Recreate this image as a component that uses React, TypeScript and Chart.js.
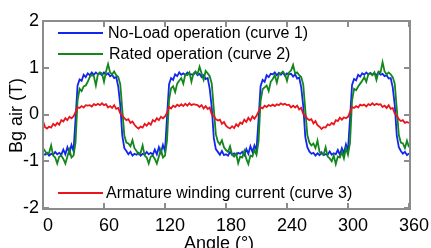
import React, { useEffect, useRef } from "react";
import { Chart, registerables } from "chart.js";

Chart.register(...registerables);

const angles = [
  0, 2, 4, 6, 8, 10, 12, 14, 16, 18, 20, 22, 24, 26, 28, 30, 32, 34, 36, 38, 40, 42, 44, 46, 48, 50, 52, 54, 56, 58,
  60, 62, 64, 66, 68, 70, 72, 74, 76, 78, 80, 82, 84, 86, 88, 90, 92, 94, 96, 98, 100, 102, 104, 106, 108, 110, 112,
  114, 116, 118, 120, 122, 124, 126, 128, 130, 132, 134, 136, 138, 140, 142, 144, 146, 148, 150, 152, 154, 156, 158,
  160, 162, 164, 166, 168, 170, 172, 174, 176, 178, 180, 182, 184, 186, 188, 190, 192, 194, 196, 198, 200, 202, 204,
  206, 208, 210, 212, 214, 216, 218, 220, 222, 224, 226, 228, 230, 232, 234, 236, 238, 240, 242, 244, 246, 248, 250,
  252, 254, 256, 258, 260, 262, 264, 266, 268, 270, 272, 274, 276, 278, 280, 282, 284, 286, 288, 290, 292, 294, 296,
  298, 300, 302, 304, 306, 308, 310, 312, 314, 316, 318, 320, 322, 324, 326, 328, 330, 332, 334, 336, 338, 340, 342,
  344, 346, 348, 350, 352, 354, 356, 358, 360,
];

const noLoad = [
  -0.84, -0.86, -0.82, -0.88, -0.84, -0.86, -0.8, -0.85, -0.82, -0.86, -0.75, -0.85, -0.7, -0.82, -0.65, -0.78,
  -0.1, 0.62, 0.75, 0.72, 0.85, 0.8, 0.88, 0.84, 0.9, 0.85, 0.9, 0.86, 0.88, 0.84, 0.9, 0.85, 0.88, 0.82, 0.85, 0.78,
  0.8, 0.6, 0.2, -0.45, -0.72, -0.78, -0.85, -0.8, -0.88, -0.84, -0.86, -0.82, -0.88, -0.84, -0.86, -0.8, -0.85,
  -0.82, -0.86, -0.75, -0.85, -0.7, -0.82, -0.65, -0.78,
  -0.05, 0.65, 0.78, 0.74, 0.86, 0.82, 0.9, 0.85, 0.88, 0.84, 0.9, 0.87, 0.86, 0.85, 0.91, 0.84, 0.87, 0.8, 0.84,
  0.76, 0.78, 0.55, 0.15, -0.5, -0.74, -0.8, -0.86, -0.78, -0.87, -0.85, -0.88, -0.8, -0.86, -0.83, -0.87, -0.82,
  -0.84, -0.8, -0.87, -0.74, -0.84, -0.68, -0.8, -0.66, -0.76,
  -0.12, 0.6, 0.74, 0.7, 0.84, 0.8, 0.87, 0.86, 0.9, 0.84, 0.89, 0.85, 0.9, 0.83, 0.88, 0.86, 0.87, 0.81, 0.86,
  0.77, 0.79, 0.58, 0.18, -0.48, -0.7, -0.79, -0.84, -0.82, -0.88, -0.83, -0.87, -0.81, -0.87, -0.85, -0.86, -0.79,
  -0.86, -0.83, -0.85, -0.76, -0.86, -0.72, -0.83, -0.64, -0.77,
  -0.08, 0.63, 0.76, 0.73, 0.85, 0.81, 0.88, 0.85, 0.9, 0.86, 0.89, 0.85, 0.88, 0.84, 0.9, 0.85, 0.87, 0.82, 0.84,
  0.77, 0.78, 0.58, 0.2, -0.45, -0.7, -0.78, -0.84, -0.8, -0.87, -0.83,
];

const rated = [
  -0.72, -0.78, -0.85, -0.82, -0.66, -0.88, -0.92, -1.05, -0.9, -0.88, -0.95, -1.05, -0.9, -0.75, -0.92, -0.88,
  -0.6, 0.3, 0.55, 0.5, 0.6, 0.62, 0.7, 0.8, 0.85, 0.82, 0.62, 0.86, 0.9, 0.88, 0.7, 0.92, 1.08, 0.9, 0.86, 0.92,
  0.84, 0.8, 0.65, 0.1, -0.45,
  -0.6, -0.62, -0.68, -0.55, -0.72, -0.78, -0.85, -0.82, -0.66, -0.88, -0.92, -1.05, -0.9, -0.88, -0.95, -1.05, -0.9,
  -0.75, -0.92, -0.88,
  -0.55, 0.32, 0.56, 0.6, 0.48, 0.66, 0.72, 0.78, 0.66, 0.86, 0.84, 0.9, 0.7, 0.88, 0.92, 0.86, 1.02, 0.88, 0.74,
  0.93, 0.88, 0.82, 0.66, 0.12, -0.42,
  -0.58, -0.64, -0.55, -0.7, -0.76, -0.8, -0.68, -0.86, -0.9, -0.84, -1.04, -0.9, -0.92, -0.78, -0.95, -1.06, -0.88,
  -0.9, -0.76, -0.86,
  -0.58, 0.28, 0.54, 0.58, 0.62, 0.5, 0.7, 0.76, 0.84, 0.68, 0.86, 0.88, 0.92, 0.86, 0.72, 0.9, 0.94, 1.06, 0.88,
  0.9, 0.84, 0.8, 0.64, 0.1, -0.44,
  -0.6, -0.66, -0.62, -0.72, -0.56, -0.8, -0.84, -0.86, -0.7, -0.9, -0.94, -1.0, -0.88, -1.06, -0.9, -0.92, -0.8,
  -0.94, -0.72, -0.86,
  -0.6, 0.3, 0.55, 0.52, 0.6, 0.66, 0.72, 0.8, 0.7, 0.86, 0.88, 0.84, 0.9, 0.74, 0.92, 0.9, 1.12, 0.92, 0.86, 0.9,
  0.86, 0.8, 0.66, 0.12, -0.44,
  -0.6, -0.62, -0.72, -0.56, -0.7,
];

const armature = [
  -0.14, -0.27, -0.3, -0.26, -0.28, -0.2, -0.24, -0.18, -0.22, -0.12, -0.15, -0.08, -0.12, -0.05, -0.08, -0.04,
  0.05, 0.15, 0.14, 0.18, 0.15, 0.2, 0.19, 0.2, 0.17, 0.22, 0.2, 0.23, 0.2, 0.24, 0.2, 0.22, 0.15, 0.18, 0.14, 0.2,
  0.12, 0.14, 0.02, -0.02, -0.08, -0.12, -0.1, -0.18, -0.15, -0.22, -0.27, -0.3, -0.26, -0.28, -0.2, -0.24, -0.18,
  -0.22, -0.12, -0.15, -0.08, -0.12, -0.05, -0.08, -0.04,
  0.04, 0.16, 0.13, 0.19, 0.16, 0.21, 0.18, 0.22, 0.18, 0.23, 0.19, 0.24, 0.2, 0.22, 0.21, 0.2, 0.16, 0.2, 0.13,
  0.18, 0.12, 0.15, 0.0, -0.03, -0.1, -0.13, -0.11, -0.2, -0.16, -0.24, -0.28, -0.3, -0.25, -0.29, -0.21, -0.25,
  -0.17, -0.2, -0.11, -0.16, -0.07, -0.13, -0.04, -0.09, -0.03,
  0.06, 0.15, 0.13, 0.19, 0.16, 0.2, 0.18, 0.21, 0.18, 0.22, 0.2, 0.24, 0.21, 0.23, 0.2, 0.21, 0.15, 0.19, 0.15,
  0.19, 0.11, 0.14, 0.01, -0.02, -0.09, -0.12, -0.1, -0.19, -0.14, -0.23, -0.26, -0.31, -0.27, -0.28, -0.21, -0.23,
  -0.18, -0.21, -0.12, -0.14, -0.07, -0.11, -0.06, -0.08, -0.05,
  0.05, 0.16, 0.14, 0.18, 0.15, 0.21, 0.19, 0.21, 0.17, 0.22, 0.2, 0.24, 0.2, 0.23, 0.21, 0.22, 0.16, 0.19, 0.14,
  0.2, 0.12, 0.14, 0.02, -0.03, -0.1, -0.14, -0.12, -0.18, -0.16, -0.18,
];

const seriesLabels = [
  "No-Load operation (curve 1)",
  "Rated operation (curve 2)",
  "Armature winding current (curve 3)",
];
const xTicks = [0, 60, 120, 180, 240, 300, 360];
const yTicks = [-2, -1, 0, 1, 2];
const xTitle = "Angle (°)";
const yTitle = "Bg air (T)";

const FONT = "'Liberation Sans', Arial, sans-serif";
const BLUE = "#1226ee";
const GREEN = "#13861c";
const RED = "#e8161c";
const FRAME = "#8c8c8c";

const framePlugin = {
  id: "matlabFrame",
  afterDraw(chart: any) {
    const ctx: CanvasRenderingContext2D = chart.ctx;
    const a = chart.chartArea;
    const sx = chart.scales.x;
    const sy = chart.scales.y;
    ctx.save();
    const l = Math.round(a.left) - 1;
    const r = Math.round(a.right);
    const t = Math.round(a.top) - 1;
    const b = Math.round(a.bottom);
    ctx.fillStyle = FRAME;
    // box (2px strips) and inward ticks
    ctx.fillRect(l, t, r - l + 2, 2);
    ctx.fillRect(l, b, r - l + 2, 2);
    ctx.fillRect(l, t, 2, b - t + 2);
    ctx.fillRect(r, t, 2, b - t + 2);
    const L = 5;
    xTicks.forEach((v) => {
      const px = Math.round(sx.getPixelForValue(v)) - 1;
      ctx.fillRect(px, b - L, 2, L);
      ctx.fillRect(px, t + 2, 2, L);
    });
    yTicks.forEach((v) => {
      const py = Math.round(sy.getPixelForValue(v)) - 1;
      ctx.fillRect(l + 2, py, L, 2);
      ctx.fillRect(r - L, py, L, 2);
    });

    // legend entries
    const entries = [
      { y: 33, color: BLUE, textX: 108 },
      { y: 54, color: GREEN, textX: 109 },
      { y: 193, color: RED, textX: 106 },
    ];
    ctx.font = `16px ${FONT}`;
    ctx.textBaseline = "middle";
    ctx.textAlign = "left";
    entries.forEach((e, i) => {
      ctx.strokeStyle = e.color;
      ctx.lineWidth = 2;
      ctx.beginPath();
      ctx.moveTo(58, e.y);
      ctx.lineTo(103, e.y);
      ctx.stroke();
      ctx.fillStyle = "#000";
      ctx.fillText(seriesLabels[i], e.textX, e.y + 1);
    });
    // axis titles
    ctx.font = `18px ${FONT}`;
    ctx.fillStyle = "#000";
    ctx.textAlign = "center";
    ctx.textBaseline = "middle";
    ctx.fillText(xTitle, (a.left + a.right) / 2 - 7, 244);
    ctx.translate(17, (a.top + a.bottom) / 2 + 1);
    ctx.rotate(-Math.PI / 2);
    ctx.fillText(yTitle, 0, 0);
    ctx.restore();
  },
};

export default function App() {
  const ref = useRef<HTMLCanvasElement | null>(null);
  useEffect(() => {
    if (!ref.current) return;
    const mk = (vals: number[]) => angles.map((x, i) => ({ x, y: vals[i] }));
    const chart = new Chart(ref.current, {
      type: "line",
      data: {
        datasets: [
          { label: seriesLabels[0], data: mk(noLoad), borderColor: BLUE, borderWidth: 1.8, pointRadius: 0, order: 2 },
          { label: seriesLabels[1], data: mk(rated), borderColor: GREEN, borderWidth: 1.8, pointRadius: 0, order: 1 },
          { label: seriesLabels[2], data: mk(armature), borderColor: RED, borderWidth: 1.8, pointRadius: 0, order: 0 },
        ],
      },
      options: {
        animation: false,
        responsive: false,
        devicePixelRatio: 1,
        layout: { padding: { left: 0, right: 22, top: 21, bottom: 0 } },
        plugins: { legend: { display: false }, tooltip: { enabled: false } },
        scales: {
          x: {
            type: "linear",
            min: 0,
            max: 360,
            afterBuildTicks: (s: any) => {
              s.ticks = xTicks.map((v) => ({ value: v }));
            },
            afterFit: (s: any) => {
              s.height = 40;
            },
            grid: { display: false, drawTicks: false },
            border: { display: false },
            ticks: {
              color: "#000",
              font: { family: FONT, size: 18 },
              padding: 7,
              labelOffset: 5,
              maxRotation: 0,
              autoSkip: false,
            },
          },
          y: {
            type: "linear",
            min: -2,
            max: 2,
            afterBuildTicks: (s: any) => {
              s.ticks = yTicks.map((v) => ({ value: v }));
            },
            afterFit: (s: any) => {
              s.width = 43;
            },
            grid: { display: false, drawTicks: false },
            border: { display: false },
            ticks: {
              color: "#000",
              font: { family: FONT, size: 18 },
              padding: 4,
              autoSkip: false,
            },
          },
        },
      },
      plugins: [framePlugin],
    });
    return () => chart.destroy();
  }, []);
  return (
    <div style={{ position: "fixed", left: 0, top: 0, width: 431, height: 248, background: "#fff" }}>
      <canvas ref={ref} width={431} height={248} style={{ display: "block", width: 431, height: 248 }} />
    </div>
  );
}
